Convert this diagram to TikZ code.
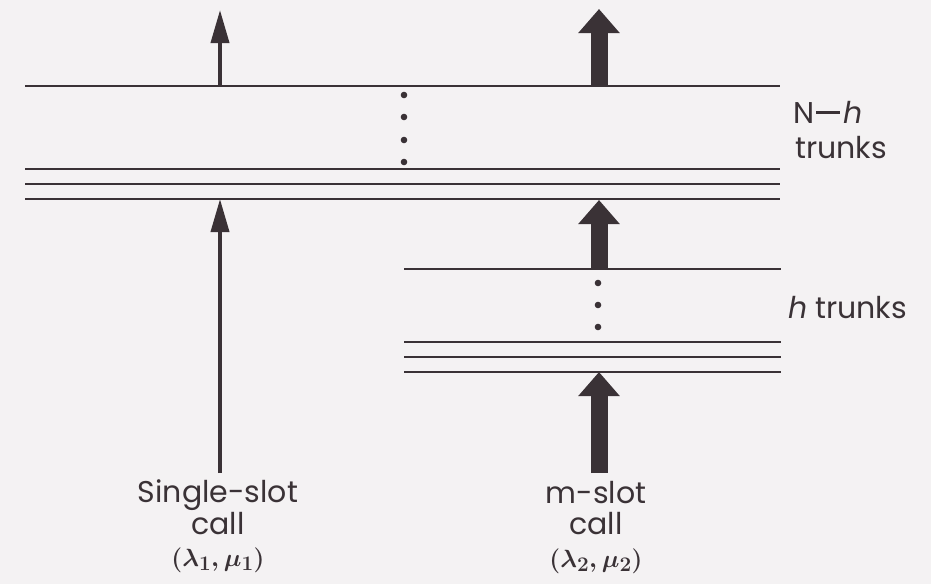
\documentclass[tikz,border=0pt]{standalone}
\usepackage{fontspec}
\setmainfont{Poppins}
\usetikzlibrary{arrows.meta}
\definecolor{ink}{RGB}{58,50,54}
\definecolor{paper}{RGB}{244,242,243}
\begin{document}
\begin{tikzpicture}[x=1pt,y=-1pt,
  trunk/.style={draw=ink,line width=2.6pt},
  dotmark/.style={fill=ink,draw=none},
  thinarr/.style={draw=ink,line width=3.8pt,-{Triangle[width=18pt,length=33pt,fill=ink]}},
  thickarr/.style={draw=ink,line width=17pt,-{Triangle[width=40pt,length=24pt,fill=ink]}},
  lbl/.style={text=ink,font=\fontsize{30}{34}\selectfont,inner sep=0pt},
  mlbl/.style={text=ink,font=\fontsize{30}{34}\selectfont\mathversion{bold},inner sep=0pt}]
\fill[paper] (0,0) rectangle (931,584);
\useasboundingbox (0,0) rectangle (931,584);
% N-h trunks
\foreach \y/\n in {86/a,169/b,184/c,199/d}{
  \coordinate (L\n) at (25,\y); \coordinate (R\n) at (780,\y);
  \draw[trunk] (L\n) -- (R\n);}
% h trunks
\foreach \y/\n in {269/e,342/f,357/g,372/h}{
  \coordinate (L\n) at (404,\y); \coordinate (R\n) at (781,\y);
  \draw[trunk] (L\n) -- (R\n);}
% dots
\foreach \y in {95,117,140,162}{\fill[dotmark] (404,\y) circle (3.3pt);}
\foreach \y in {283,305,327}{\fill[dotmark] (598,\y) circle (3.3pt);}
% arrows
\coordinate (s1top0) at (220,86);  \coordinate (s1top1) at (220,10);
\coordinate (s1bot0) at (220,473); \coordinate (s1bot1) at (220,199);
\coordinate (m0) at (599,86);  \coordinate (m1) at (599,9);
\coordinate (m2) at (599,269); \coordinate (m3) at (599,200);
\coordinate (m4) at (599,473); \coordinate (m5) at (599,372);
\draw[thinarr] (s1top0) -- (s1top1);
\draw[thinarr] (s1bot0) -- (s1bot1);
\draw[thickarr] (m0) -- (m1);
\draw[thickarr] (m2) -- (m3);
\draw[thickarr] (m4) -- (m5);
% labels
\node[lbl,anchor=base west] (nh) at (793,123) {N\kern2pt\rule[0.3em]{0.8em}{0.1em}\kern3pt\textit{h}};
\node[lbl,anchor=base west] (tr1) at (795,158) {trunks};
\node[lbl,anchor=base west] (tr2) at (788,318) {\textit{h} trunks};
\node[lbl,anchor=base] (ss) at (218,502) {Single-slot};
\node[lbl,anchor=base] (c1) at (218,534) {call};
\node[mlbl,anchor=base] (p1) at (218,566) {$(\lambda_1,\mu_1)$};
\node[lbl,anchor=base] (ms) at (596,503) {m-slot};
\node[lbl,anchor=base] (c2) at (596,534) {call};
\node[mlbl,anchor=base] (p2) at (596,567) {$(\lambda_2,\mu_2)$};
\end{tikzpicture}
\end{document}
